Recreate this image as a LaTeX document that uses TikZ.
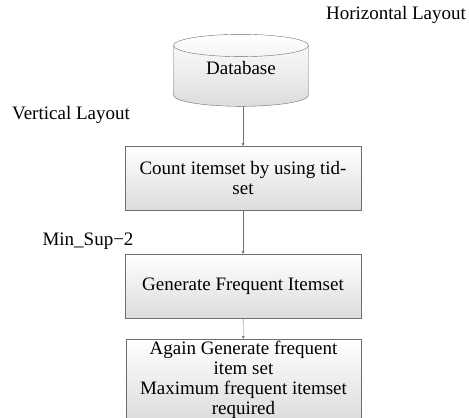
\documentclass[tikz,border=0pt]{standalone}
\usepackage{fontspec}
\setmainfont{Liberation Serif}
\usetikzlibrary{shapes.geometric,arrows.meta}
\definecolor{edgegray}{RGB}{110,110,110}
\definecolor{fillgray}{RGB}{220,220,220}
\newcommand{\boxwd}{236pt}

\begin{document}
\begin{tikzpicture}[x=1pt,y=-1pt,
    every node/.style={font=\fontsize{19}{20.5}\selectfont},
    stepbox/.style={draw=edgegray, top color=white, bottom color=fillgray,
      minimum width=\boxwd, minimum height=64pt, inner sep=0pt, align=center},
    flow/.style={draw=edgegray, -{Stealth[length=3pt,width=3pt]}}]
  \useasboundingbox (0,0) rectangle (469,418);
  \clip (0,0) rectangle (469,418);

  \node (db) at (241,76) [cylinder, shape border rotate=90, draw=edgegray,
    top color=white, bottom color=fillgray, minimum width=135pt,
    minimum height=72pt, aspect=.32, inner sep=0pt, text depth=16pt] {Database};
  \node (count) at (243,178) [stepbox] {Count itemset by using tid-\\set};
  \node (freq) at (243,286) [stepbox] {Generate Frequent Itemset};
  \node (again) at (243.5,379.5) [stepbox, minimum width=235pt, minimum height=81pt,
    font=\fontsize{19}{20}\selectfont]
    {Again Generate frequent\\item set\\Maximum frequent itemset\\required};

  \node (horiz) at (396,15) {Horizontal Layout};
  \node (vert) at (71,115) {Vertical Layout};
  \node (minsup) at (88,241) {Min\_Sup−2};

  \draw[flow] (count.north |- db.bottom) -- (count);
  \draw[flow] (count) -- (freq);
  \draw[flow] (freq) -- (again);

\end{tikzpicture}
\end{document}
